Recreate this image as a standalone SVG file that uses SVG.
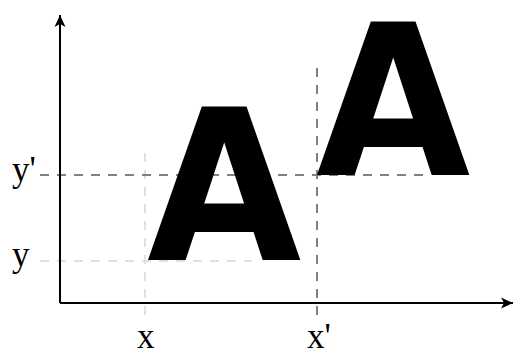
<svg xmlns="http://www.w3.org/2000/svg" width="516" height="351" viewBox="0 0 516 351">
<defs>
<style>
.axis{stroke:#000;stroke-width:2;fill:none}
.dl{stroke:#e0e0e0;stroke-width:2;stroke-dasharray:9 8;fill:none}
.dd{stroke:#808080;stroke-width:2;stroke-dasharray:9 8;fill:none}
.lbl{font-family:"Liberation Serif","Times New Roman",serif;font-size:35px;fill:#000}
.big{font-family:"DejaVu Sans",sans-serif;font-weight:bold;font-size:210px;fill:#000}
</style>
<marker id="arr" markerUnits="userSpaceOnUse" markerWidth="14" markerHeight="12" viewBox="-13 -6 14 12" refX="0" refY="0" orient="auto">
<path d="M0,0 L-12,-5.5 L-9,0 L-12,5.5 Z" fill="#000"/>
</marker>
</defs>
<g id="guides">
<path class="dl" d="M145,153 V320"/>
<path class="dl" d="M40,261 H252"/>
<path class="dd" d="M40,175 H430"/>
<path class="dd" d="M317,68 V320"/>
</g>
<g id="letterA1" transform="translate(147,260) scale(0.95,1)"><text class="big" x="0" y="0">A</text></g>
<g id="letterA2" transform="translate(316,175) scale(0.95,1)"><text class="big" x="0" y="0">A</text></g>
<g id="axes">
<path class="axis" d="M60,303 V15" marker-end="url(#arr)"/>
<path class="axis" d="M60,303 H513" marker-end="url(#arr)"/>
</g>
<g id="labels">
<text class="lbl" x="137" y="348">x</text>
<text class="lbl" x="307" y="348">x'</text>
<text class="lbl" x="12" y="266">y</text>
<text class="lbl" x="12" y="181">y'</text>
</g>
</svg>
